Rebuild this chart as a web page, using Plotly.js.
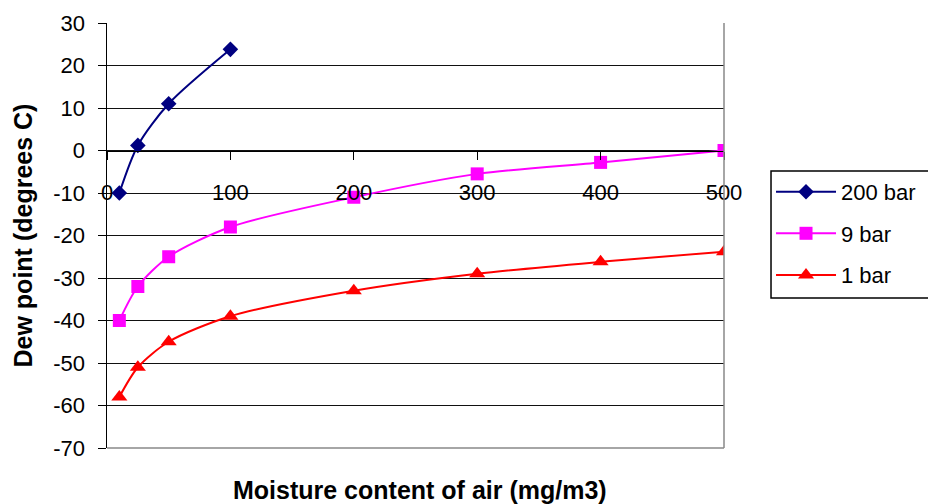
<!DOCTYPE html>
<html>
<head>
<meta charset="utf-8">
<script src="https://cdn.plot.ly/plotly-3.0.1.min.js"></script>
<style>html,body{margin:0;padding:0;background:#fff;}#chart{width:928px;height:504px;}</style>
</head>
<body>
<div id="chart"></div>
<script>
// Data
const x200 = [10, 25, 50, 100];
const y200 = [-10, 1.2, 11, 23.8];
const x9 = [10, 25, 50, 100, 200, 300, 400, 500];
const y9 = [-40, -32, -25, -18, -11, -5.5, -2.8, 0];
const x1 = [10, 25, 50, 100, 200, 300, 400, 500];
const y1 = [-58, -51, -45, -39, -33, -29, -26.2, -23.8];
const seriesNames = ["200 bar", "9 bar", "1 bar"];
const xTicks = [0, 100, 200, 300, 400, 500];
const yTicks = [-70, -60, -50, -40, -30, -20, -10, 0, 10, 20, 30];
const xTitle = "Moisture content of air (mg/m3)";
const yTitle = "Dew point (degrees C)";

const font = {family: "Liberation Sans, Arial, sans-serif", color: "#000"};
const tickSize = 22;
const titleFont = Object.assign({size: 25, weight: "bold"}, font);

const traces = [
  {x: x200, y: y200, name: seriesNames[0], legendgroup: "a", mode: "lines+markers",
   line: {color: "#000080", width: 2, shape: "spline", smoothing: 0.8},
   marker: {symbol: "diamond", size: 12, color: "#000080"}},
  {x: x9, y: y9, name: seriesNames[1], legendgroup: "b", mode: "lines+markers",
   line: {color: "#FF00FF", width: 2, shape: "spline", smoothing: 0.8},
   marker: {symbol: "square", size: 13, color: "#FF00FF"}},
  {x: x1, y: y1, name: seriesNames[2], legendgroup: "c", mode: "lines+markers",
   line: {color: "#FF0000", width: 2, shape: "spline", smoothing: 0.8},
   marker: {symbol: "triangle-up", size: 14, color: "#FF0000"}}
];

const layout = {
  width: 928, height: 504,
  paper_bgcolor: "#fff", plot_bgcolor: "#fff",
  margin: {l: 107, r: 204, t: 23, b: 56, pad: 0, autoexpand: false},
  font: Object.assign({size: tickSize}, font),
  xaxis: {
    range: [0, 500], tickvals: xTicks, ticktext: xTicks.map(String),
    showgrid: false, zeroline: false, automargin: false,
    showline: true, linecolor: "#000", linewidth: 1,
    anchor: "free", position: 0.7,
    ticks: "outside", ticklen: 8, tickcolor: "#000",
    ticklabelstandoff: 14,
    tickfont: Object.assign({size: tickSize}, font)
  },
  yaxis: {
    range: [-70, 30], tickvals: yTicks, ticktext: yTicks.map(String),
    showgrid: true, gridcolor: "#111", gridwidth: 1, automargin: false,
    zeroline: false, showline: true, linecolor: "#000", linewidth: 1.5,
    ticks: "outside", ticklen: 8, tickcolor: "#000",
    ticklabelstandoff: 8,
    tickfont: Object.assign({size: tickSize}, font)
  },
  shapes: [
    {type: "line", xref: "paper", yref: "paper", x0: 1, x1: 1, y0: 0, y1: 1, line: {color: "#888", width: 1.5}},
    {type: "line", xref: "paper", yref: "paper", x0: 0, x1: 1, y0: 0, y1: 0, line: {color: "#888", width: 1.5}},
    {type: "rect", xref: "paper", yref: "paper", x0: 1.0762, x1: 1.4, y0: 0.353, y1: 0.652,
     line: {color: "#000", width: 1.5}, fillcolor: "rgba(0,0,0,0)"}
  ],
  annotations: [
    {text: xTitle, xref: "paper", yref: "paper", x: 0.507, y: 0, yshift: -42,
     xanchor: "center", yanchor: "middle", showarrow: false, font: titleFont},
    {text: yTitle, xref: "paper", yref: "paper", x: 0, y: 0.5, xshift: -85, textangle: -90,
     xanchor: "center", yanchor: "middle", showarrow: false, font: titleFont}
  ],
  showlegend: true,
  legend: {
    x: 1.0762, y: 0.652, xanchor: "left", yanchor: "top",
    borderwidth: 0, bgcolor: "rgba(0,0,0,0)",
    font: Object.assign({size: tickSize}, font),
    traceorder: "grouped", tracegroupgap: 10, itemwidth: 60
  }
};

Plotly.newPlot("chart", traces, layout, {displayModeBar: false, staticPlot: true});
</script>
</body>
</html>
